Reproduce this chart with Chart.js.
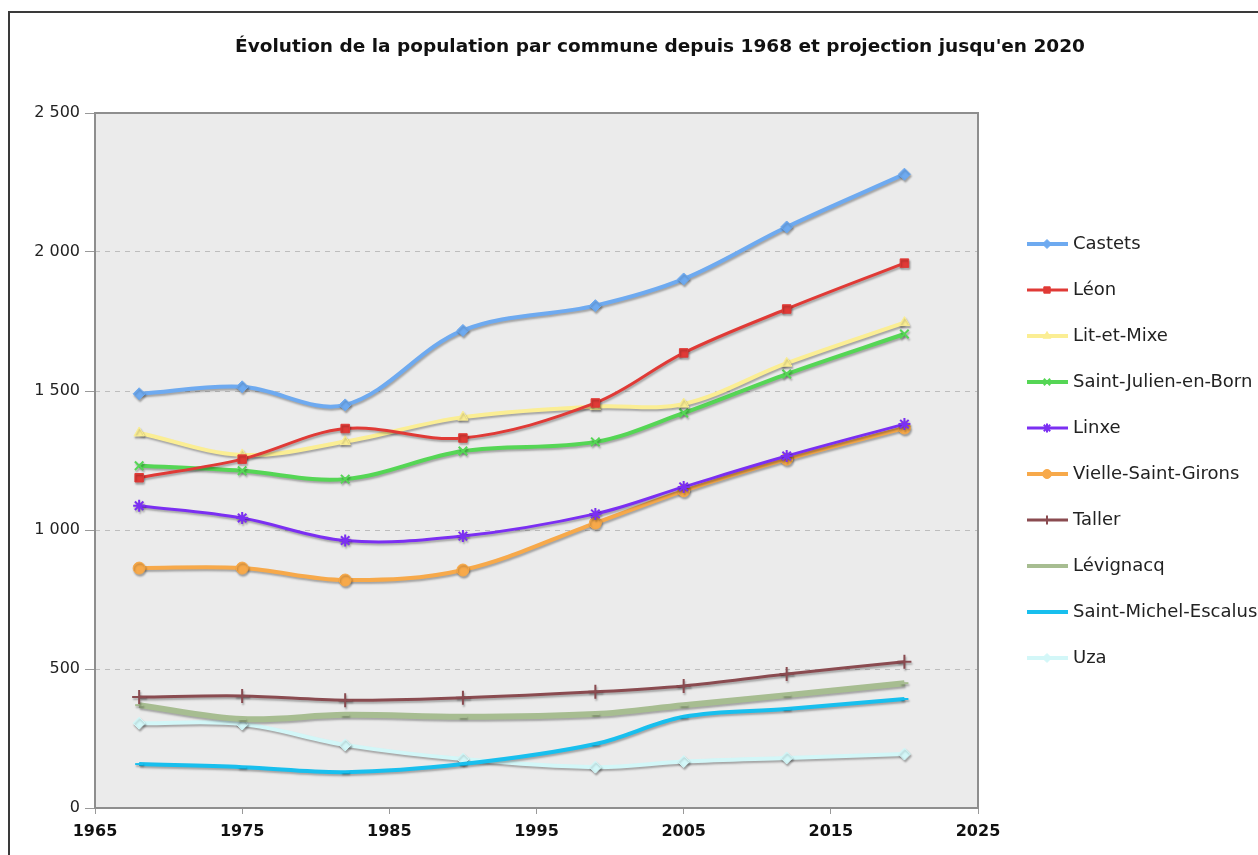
<!DOCTYPE html>
<html lang="fr">
<head>
<meta charset="utf-8">
<title>Évolution de la population par commune</title>
<script src="https://cdn.jsdelivr.net/npm/chart.js@4.4.1/dist/chart.umd.min.js"></script>
<style>
  html, body { margin: 0; padding: 0; background: #fff; overflow: hidden; }
  #cadre { position: relative; width: 1258px; height: 855px; overflow: hidden; }
  #bord { position: absolute; left: 8px; top: 11px; width: 1300px; height: 900px; border: 2px solid #3a3a3a; box-sizing: border-box; }
  #graphique { position: absolute; left: 0; top: 0; }
</style>
</head>
<body>
<div id="cadre">
  <div id="bord"></div>
  <canvas id="graphique" width="1300" height="855"></canvas>
</div>
<script>
  // Donnees
  const annees = [1968, 1975, 1982, 1990, 1999, 2005, 2012, 2020];
  const ticksX = [1965, 1975, 1985, 1995, 2005, 2015, 2025];
  const ticksY = [0, 500, 1000, 1500, 2000, 2500];

  const castets     = [1490, 1515, 1450, 1718, 1807, 1903, 2090, 2280];
  const leon        = [1188, 1255, 1365, 1331, 1457, 1637, 1795, 1960];
  const litEtMixe   = [1349, 1270, 1318, 1406, 1444, 1453, 1600, 1746];
  const saintJulien = [1231, 1213, 1183, 1284, 1317, 1421, 1561, 1705];
  const linxe       = [1087, 1043, 962, 978, 1058, 1155, 1266, 1381];
  const vielle      = [863, 863, 820, 856, 1025, 1141, 1255, 1367];
  const taller      = [399, 403, 388, 397, 418, 439, 482, 526];
  const levignacq   = [370, 320, 335, 328, 338, 370, 406, 449];
  const saintMichel = [158, 147, 129, 158, 230, 328, 356, 392];
  const uza         = [305, 302, 227, 176, 147, 167, 180, 194];

  const police = "'DejaVu Sans', Verdana, sans-serif";

  function serie(label, valeurs, couleur, style, epaisseur, rayon, fond) {
    return {
      label: label,
      data: valeurs.map((v, i) => ({ x: annees[i], y: v })),
      borderColor: couleur,
      backgroundColor: couleur,
      borderWidth: epaisseur,
      pointStyle: style,
      pointRadius: rayon,
      pointBackgroundColor: fond || couleur,
      pointBorderColor: couleur,
      pointBorderWidth: style === 'cross' || style === 'crossRot' || style === 'star' || style === 'line' ? 2 : 1,
      tension: 0.35
    };
  }

  const jeux = [
    serie('Castets', castets, '#6eaaf0', 'rectRot', 4, 6),
    serie('Léon', leon, '#e03a36', 'rect', 3, 6),
    serie('Lit-et-Mixe', litEtMixe, '#fbee94', 'triangle', 4, 6),
    serie('Saint-Julien-en-Born', saintJulien, '#55d655', 'crossRot', 4, 6),
    serie('Linxe', linxe, '#7b2ff2', 'star', 3, 6),
    serie('Vielle-Saint-Girons', vielle, '#f7a94a', 'circle', 4, 6),
    serie('Taller', taller, '#8a4b50', 'cross', 3, 7),
    serie('Lévignacq', levignacq, '#a7bd91', 'line', 6, 4),
    serie('Saint-Michel-Escalus', saintMichel, '#18bfee', 'line', 4, 4),
    serie('Uza', uza, '#d3f7f8', 'rectRot', 4, 6)
  ];

  function formatMilliers(v) {
    return String(v).replace(/\B(?=(\d{3})+(?!\d))/g, ' ');
  }

  // fond gris, cadre et ombre des courbes
  const decor = {
    id: 'decor',
    beforeDraw(chart) {
      const { ctx, chartArea: a } = chart;
      ctx.save();
      ctx.fillStyle = '#ebebeb';
      ctx.fillRect(a.left, a.top, a.right - a.left, a.bottom - a.top);
      ctx.restore();
    },
    beforeDatasetsDraw(chart) {
      const { ctx, chartArea: a } = chart;
      ctx.save();
      ctx.strokeStyle = '#8e8e8e';
      ctx.lineWidth = 2;
      ctx.strokeRect(a.left, a.top, a.right - a.left, a.bottom - a.top);
      ctx.restore();
      ctx.save();
      ctx.shadowColor = 'rgba(0, 0, 0, 0.3)';
      ctx.shadowOffsetX = 1;
      ctx.shadowOffsetY = 2;
      ctx.shadowBlur = 2;
    },
    afterDatasetsDraw(chart) {
      chart.ctx.restore();
    }
  };

  // legende a droite : trait + marqueur + nom
  const legende = {
    id: 'legendeDroite',
    afterDraw(chart) {
      const ctx = chart.ctx;
      const x0 = chart.chartArea.right + 49;
      const y0 = 244, pas = 46;
      chart.data.datasets.forEach((ds, i) => {
        const y = y0 + i * pas;
        ctx.save();
        ctx.strokeStyle = ds.borderColor;
        ctx.lineWidth = Math.min(ds.borderWidth, 4);
        ctx.beginPath();
        ctx.moveTo(x0, y);
        ctx.lineTo(x0 + 41, y);
        ctx.stroke();
        if (ds.pointStyle !== 'line' && Chart.helpers && Chart.helpers.drawPoint) {
          ctx.fillStyle = ds.pointBackgroundColor;
          ctx.strokeStyle = ds.pointBorderColor;
          ctx.lineWidth = ds.pointBorderWidth;
          Chart.helpers.drawPoint(ctx, { pointStyle: ds.pointStyle, radius: 4.5, borderWidth: ds.pointBorderWidth, rotation: 0 }, x0 + 20, y);
        }
        ctx.fillStyle = '#222';
        ctx.font = '18px ' + police;
        ctx.textBaseline = 'middle';
        ctx.textAlign = 'left';
        ctx.fillText(ds.label, x0 + 46, y);
        ctx.restore();
      });
    }
  };

  new Chart(document.getElementById('graphique'), {
    type: 'line',
    data: { datasets: jeux },
    options: {
      responsive: false,
      animation: false,
      devicePixelRatio: 1,
      layout: { padding: { left: 20, right: 0, top: 0, bottom: 0 } },
      plugins: {
        legend: { display: false },
        tooltip: { enabled: false },
        title: {
          display: true,
          text: "Évolution de la population par commune depuis 1968 et projection jusqu'en 2020",
          color: '#111',
          font: { family: police, size: 18.5, weight: 'bold' },
          padding: { top: 36, bottom: 54.8 }
        }
      },
      scales: {
        x: {
          type: 'linear',
          min: 1965,
          max: 2025,
          afterBuildTicks: s => { s.ticks = ticksX.map(v => ({ value: v })); },
          afterFit: s => { s.height = 47; },
          grid: { drawOnChartArea: false, drawTicks: true, tickLength: 6, tickColor: '#999' },
          border: { display: false },
          ticks: {
            color: '#111',
            padding: 8,
            maxRotation: 0,
            font: { family: police, size: 16, weight: 'bold' },
            callback: v => String(v)
          }
        },
        y: {
          min: 0,
          max: 2500,
          afterBuildTicks: s => { s.ticks = ticksY.map(v => ({ value: v })); },
          afterFit: s => { s.width = 75; },
          grid: {
            color: c => (c.tick && (c.tick.value === 0 || c.tick.value === 2500)) ? 'rgba(0,0,0,0)' : '#bdbdbd',
            lineWidth: 1,
            drawTicks: true,
            tickLength: 10,
            tickColor: '#999',
            tickBorderDash: []
          },
          border: { display: false, dash: [5, 5] },
          ticks: {
            color: '#222',
            padding: 5,
            font: { family: police, size: 16 },
            callback: v => formatMilliers(v)
          }
        },
        // axe vide a droite : reserve la place de la legende
        marge: {
          type: 'linear',
          position: 'right',
          afterFit: s => { s.width = 322; },
          grid: { display: false },
          border: { display: false },
          ticks: { display: false }
        }
      }
    },
    plugins: [decor, legende]
  });
</script>
</body>
</html>
